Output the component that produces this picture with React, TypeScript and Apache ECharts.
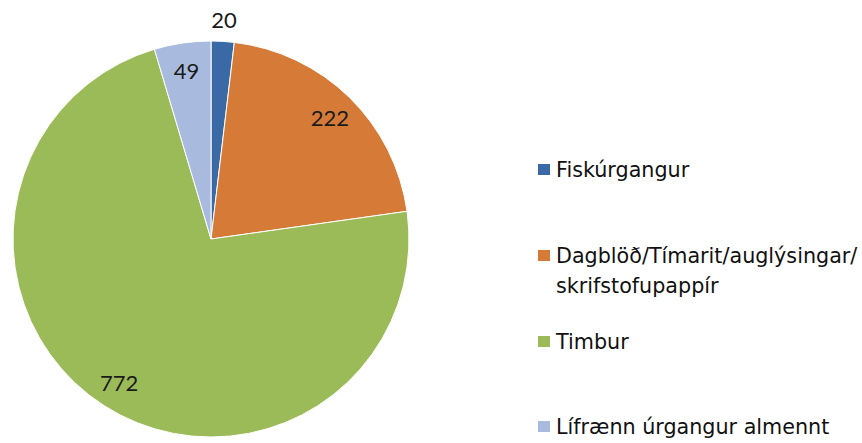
import React, { useEffect, useRef } from "react";
import * as echarts from "echarts";

const categories = [
  "Fiskúrgangur",
  "Dagblöð/Tímarit/auglýsingar/skrifstofupappír",
  "Timbur",
  "Lífrænn úrgangur almennt",
];
const legendLines = [
  ["Fiskúrgangur"],
  ["Dagblöð/Tímarit/auglýsingar/", "skrifstofupappír"],
  ["Timbur"],
  ["Lífrænn úrgangur almennt"],
];
const values = [20, 222, 772, 49];
const colors = ["#3A6AA6", "#D67B37", "#9BBB59", "#A8BBDE"];
const outsideLabelIdx = [0];

const FONT = "Lato, 'Noto Sans', sans-serif";
const LEGEND_FONT = "'DejaVu Sans', sans-serif";

export default function App() {
  const ref = useRef<HTMLDivElement>(null);
  useEffect(() => {
    if (!ref.current) return;
    const chart = echarts.init(ref.current, undefined, { renderer: "svg" });
    const center = [211, 239];
    const R = 198;
    const mainData = categories.map((n, i) => ({
      name: n,
      value: values[i],
      itemStyle: { color: colors[i] },
    }));
    const labelData = (outside: boolean) =>
      categories.map((n, i) => ({
        name: n,
        value: values[i],
        label: { show: outsideLabelIdx.includes(i) === outside },
      }));
    const overlayBase = {
      type: "pie",
      center,
      startAngle: 90,
      clockwise: true,
      silent: true,
      avoidLabelOverlap: false,
      itemStyle: { color: "transparent", borderWidth: 0 },
      emphasis: { disabled: true },
      labelLine: { show: false },
      label: {
        position: "inside",
        formatter: "{c}",
        color: "#1a1a1a",
        fontFamily: FONT,
        fontSize: 22,
      },
    };
    const rich = {
      a: { fontFamily: LEGEND_FONT, fontSize: 20.7, color: "#111", lineHeight: 30 },
    };
    const legendBase = {
      orient: "vertical",
      left: 536,
      padding: 0,
      itemWidth: 14,
      itemHeight: 13,
      icon: "rect",
      selectedMode: false,
      formatter: (name: string) => {
        const idx = categories.indexOf(name);
        return legendLines[idx].map((l) => `{a|${l}}`).join("\n");
      },
      textStyle: { rich },
    };
    chart.setOption({
      animation: false,
      backgroundColor: "#ffffff",
      legend: [
        { ...legendBase, top: 159, data: [categories[0]] },
        {
          ...legendBase,
          top: 245,
          data: [categories[1]],
          textStyle: { rich, padding: [30, 0, 0, 0] },
        },
        { ...legendBase, top: 331, data: [categories[2]] },
        { ...legendBase, top: 416, data: [categories[3]] },
      ],
      series: [
        {
          type: "pie",
          center,
          radius: [0, R],
          startAngle: 90,
          clockwise: true,
          silent: true,
          data: mainData,
          label: { show: false },
          labelLine: { show: false },
          itemStyle: { borderColor: "#ffffff", borderWidth: 1 },
          emphasis: { disabled: true },
        },
        { ...overlayBase, radius: [0, 334], data: labelData(false) },
        { ...overlayBase, radius: [0, 434], data: labelData(true) },
      ],
    });
    return () => chart.dispose();
  }, []);
  return (
    <div
      ref={ref}
      style={{ position: "fixed", left: 0, top: 0, width: 862, height: 443 }}
    />
  );
}
